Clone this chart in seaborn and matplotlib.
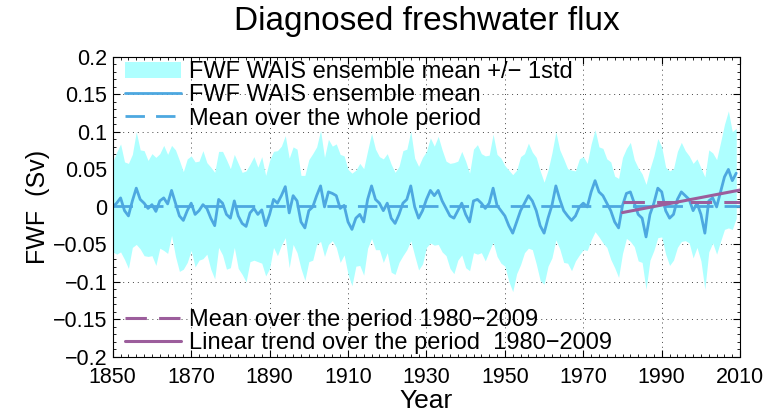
import numpy as np
import pandas as pd
import matplotlib
matplotlib.use("Agg")
import matplotlib.pyplot as plt
import seaborn as sns
from matplotlib.ticker import MultipleLocator

# annual ensemble mean (Sv), 1850-2009
fwf_1850s = [0.000, 0.005, 0.012, -0.005, -0.012, 0.008, 0.025, 0.010, 0.005, -0.002]
fwf_1860s = [0.003, -0.006, 0.008, 0.012, 0.004, 0.022, 0.005, -0.012, -0.018, -0.005]
fwf_1870s = [0.005, -0.010, -0.005, 0.003, -0.002, -0.015, -0.025, 0.010, 0.005, -0.010]
fwf_1880s = [-0.015, 0.008, -0.012, -0.022, -0.026, -0.008, -0.002, -0.010, -0.004, -0.025]
fwf_1890s = [-0.010, 0.010, 0.005, 0.015, 0.027, -0.008, 0.015, 0.008, -0.020, -0.028]
fwf_1900s = [-0.005, 0.000, 0.015, 0.028, 0.000, 0.020, 0.018, 0.015, -0.002, 0.002]
fwf_1910s = [-0.020, -0.030, -0.015, -0.010, -0.020, 0.010, 0.028, 0.010, 0.005, -0.005]
fwf_1920s = [0.005, -0.015, -0.022, -0.010, 0.005, 0.010, 0.028, 0.000, -0.015, -0.005]
fwf_1930s = [0.010, 0.022, 0.015, 0.022, 0.008, -0.002, -0.012, -0.015, -0.005, 0.005]
fwf_1940s = [-0.010, -0.020, 0.008, 0.010, 0.005, -0.002, 0.005, 0.025, 0.002, -0.005]
fwf_1950s = [-0.012, -0.025, -0.035, -0.020, -0.005, 0.005, 0.015, 0.008, -0.005, -0.025]
fwf_1960s = [-0.035, -0.015, 0.002, 0.028, 0.010, -0.005, -0.012, -0.018, -0.012, 0.000]
fwf_1970s = [0.005, 0.000, 0.020, 0.035, 0.020, 0.015, 0.005, -0.005, -0.020, -0.028]
fwf_1980s = [0.002, 0.018, 0.020, 0.005, -0.010, -0.015, -0.040, -0.010, 0.005, 0.025]
fwf_1990s = [0.020, -0.005, -0.015, -0.010, 0.010, 0.020, 0.015, 0.010, -0.005, 0.005]
fwf_2000s = [-0.010, -0.035, 0.008, 0.012, 0.000, 0.020, 0.040, 0.050, 0.035, 0.045]

# ensemble spread (1 std, Sv)
std_1850s = [0.060, 0.068, 0.072, 0.065, 0.070, 0.062, 0.075, 0.066, 0.070, 0.064]
std_1860s = [0.068, 0.072, 0.063, 0.070, 0.066, 0.060, 0.071, 0.074, 0.065, 0.069]
std_1870s = [0.063, 0.070, 0.066, 0.072, 0.061, 0.068, 0.071, 0.064, 0.069, 0.073]
std_1880s = [0.066, 0.062, 0.070, 0.068, 0.074, 0.065, 0.069, 0.063, 0.071, 0.067]
std_1890s = [0.072, 0.064, 0.070, 0.066, 0.068, 0.073, 0.065, 0.069, 0.062, 0.070]
std_1900s = [0.068, 0.071, 0.065, 0.074, 0.066, 0.070, 0.063, 0.069, 0.072, 0.066]
std_1910s = [0.070, 0.075, 0.064, 0.068, 0.071, 0.065, 0.070, 0.067, 0.062, 0.069]
std_1920s = [0.066, 0.072, 0.068, 0.064, 0.070, 0.067, 0.073, 0.065, 0.069, 0.071]
std_1930s = [0.064, 0.070, 0.066, 0.072, 0.068, 0.063, 0.070, 0.074, 0.066, 0.069]
std_1940s = [0.071, 0.065, 0.069, 0.073, 0.066, 0.070, 0.064, 0.072, 0.068, 0.070]
std_1950s = [0.067, 0.074, 0.078, 0.069, 0.072, 0.066, 0.070, 0.065, 0.071, 0.073]
std_1960s = [0.068, 0.064, 0.070, 0.072, 0.066, 0.069, 0.063, 0.067, 0.060, 0.064]
std_1970s = [0.062, 0.058, 0.064, 0.068, 0.060, 0.063, 0.059, 0.065, 0.061, 0.066]
std_1980s = [0.064, 0.060, 0.066, 0.058, 0.062, 0.059, 0.070, 0.061, 0.063, 0.066]
std_1990s = [0.060, 0.058, 0.063, 0.061, 0.064, 0.066, 0.060, 0.058, 0.063, 0.059]
std_2000s = [0.062, 0.075, 0.068, 0.060, 0.063, 0.066, 0.070, 0.078, 0.065, 0.060]

years = np.arange(1850, 2010)
fwf = np.array(fwf_1850s + fwf_1860s + fwf_1870s + fwf_1880s + fwf_1890s + fwf_1900s
               + fwf_1910s + fwf_1920s + fwf_1930s + fwf_1940s + fwf_1950s + fwf_1960s
               + fwf_1970s + fwf_1980s + fwf_1990s + fwf_2000s)
std = np.array(std_1850s + std_1860s + std_1870s + std_1880s + std_1890s + std_1900s
               + std_1910s + std_1920s + std_1930s + std_1940s + std_1950s + std_1960s
               + std_1970s + std_1980s + std_1990s + std_2000s)

df = pd.DataFrame({"year": years, "fwf": fwf, "std": std})
recent = df[df["year"] >= 1980]

whole_mean = df["fwf"].mean()
recent_mean = recent["fwf"].mean()
slope, icpt = np.polyfit(recent["year"], recent["fwf"], 1)

cyan = "#AEFFFF"
blue = "#4DA8E0"
purple = "#9C5E9C"

sns.set_style("ticks")
plt.rcParams["font.family"] = ["Liberation Sans", "DejaVu Sans"]
plt.rcParams["text.color"] = "black"
plt.rcParams["axes.labelcolor"] = "black"
plt.rcParams["xtick.color"] = "black"
plt.rcParams["ytick.color"] = "black"

fig = plt.figure(figsize=(7.67, 4.18), dpi=100)
ax = fig.add_axes([0.147, 0.146, 0.818, 0.718])

ax.fill_between(df["year"], df["fwf"] - df["std"], df["fwf"] + df["std"],
                color=cyan, linewidth=0, label="FWF WAIS ensemble mean +/\u2212 1std")
sns.lineplot(x="year", y="fwf", data=df, ax=ax, color=blue, linewidth=2,
             label="FWF WAIS ensemble mean")
ax.plot([1850, 2010], [whole_mean, whole_mean], color=blue, linewidth=2,
        dashes=(7, 4), label="Mean over the whole period")
l1, = ax.plot([1980, 2010], [recent_mean, recent_mean], color=purple, linewidth=2.2,
              dashes=(7, 4), label="Mean over the period 1980\u22122009")
l2, = ax.plot([1980, 2010], [icpt + slope * 1980, icpt + slope * 2010], color=purple,
              linewidth=2.2, label="Linear trend over the period  1980\u22122009")

ax.set_xlim(1850, 2010)
ax.set_ylim(-0.2, 0.2)
ax.set_xticks(np.arange(1850, 2011, 20))
ax.set_yticks(np.arange(-0.2, 0.201, 0.05))
ax.set_yticklabels(["\u22120.2", "\u22120.15", "\u22120.1", "\u22120.05", "0",
                    "0.05", "0.1", "0.15", "0.2"])
ax.xaxis.set_minor_locator(MultipleLocator(2))
ax.yaxis.set_minor_locator(MultipleLocator(0.01))
ax.tick_params(which="both", direction="in", top=True, right=True, labelsize=15.5,
               colors="black")
ax.tick_params(which="major", length=5)
ax.tick_params(which="minor", length=2.5)
ax.tick_params(axis="x", pad=7)
ax.tick_params(axis="y", pad=4)
ax.grid(True, which="major", linestyle=(0, (1, 4)), color="#444444", linewidth=0.7)
for s in ax.spines.values():
    s.set_linewidth(0.8)
    s.set_color("black")

ax.set_xlabel("Year", fontsize=19, labelpad=1, color="black")
ax.set_ylabel("FWF  (Sv)", fontsize=18, labelpad=2, color="black")
ax.set_title("Diagnosed freshwater flux", fontsize=24, pad=19, color="black")

h, lab = ax.get_legend_handles_labels()
leg1 = ax.legend(h[:3], lab[:3], loc="upper left", frameon=False, fontsize=17,
                 handlelength=2.4, handletextpad=0.35, labelspacing=0.05,
                 borderaxespad=0.1, bbox_to_anchor=(0.0, 1.025), labelcolor="black")
ax.add_artist(leg1)
ax.legend([l1, l2], [l1.get_label(), l2.get_label()], loc="lower left", frameon=False,
          fontsize=17, handlelength=2.4, handletextpad=0.35, labelspacing=0.05,
          borderaxespad=0.1, bbox_to_anchor=(0.0, -0.03), labelcolor="black")

fig.savefig("out.png", dpi=100)
